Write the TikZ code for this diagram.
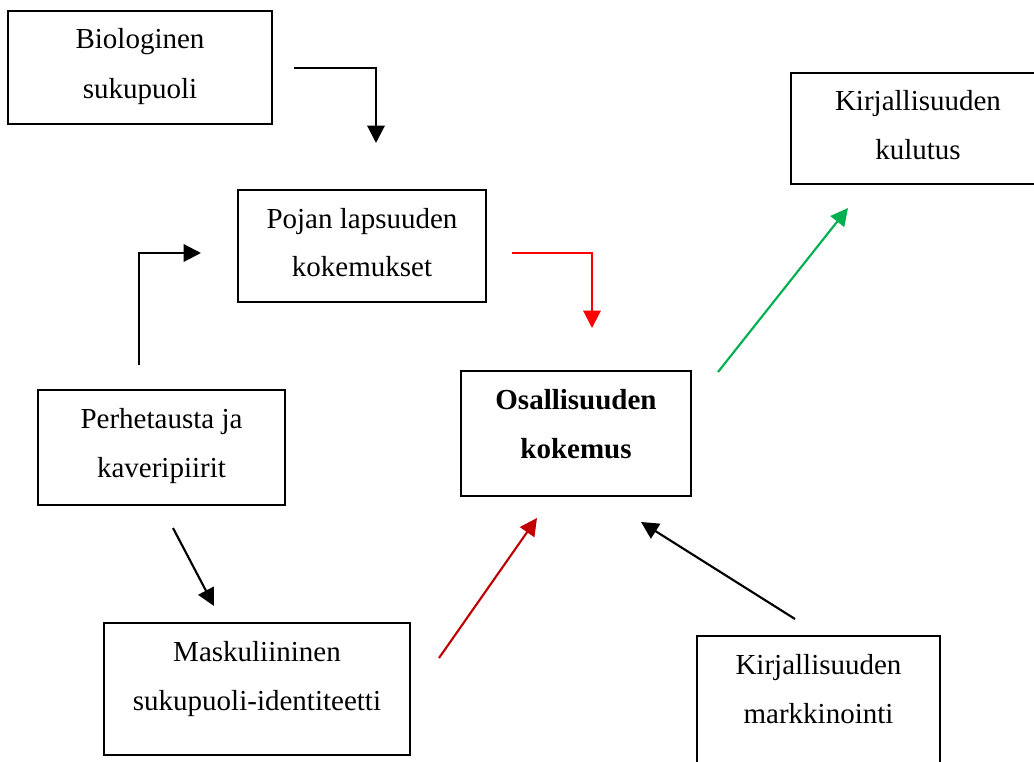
\documentclass[tikz,border=0pt]{standalone}
\usepackage{fontspec}
\setmainfont{Liberation Serif}
\usetikzlibrary{arrows.meta,calc}
\definecolor{arrred}{HTML}{FF0000}
\definecolor{arrgreen}{HTML}{00B050}
\definecolor{arrdarkred}{HTML}{C00000}
\begin{document}
\begin{tikzpicture}[x=0.75pt,y=-0.75pt,
  box/.style={draw=black, line width=0.8pt, rectangle, inner sep=0pt, outer sep=0pt},
  lbl/.style={anchor=base, font=\fontsize{21.75}{26}\selectfont, inner sep=0pt},
  conn/.style={line width=1.6pt, -{Triangle[length=13pt,width=13pt]}}]
\useasboundingbox (0,0) rectangle (1034,762);
% boxes
\node[box, minimum width=198pt, minimum height=84.75pt] (bio) at (140,67.5) {};
\node[box, minimum width=186pt, minimum height=84pt] (poj) at (362,246) {};
\node[box, minimum width=190.5pt, minimum height=83.25pt] (kul) at (918,128.5) {};
\node[box, minimum width=185.25pt, minimum height=86.25pt] (per) at (161.5,447.5) {};
\node[box, minimum width=172.5pt, minimum height=93.75pt] (osa) at (576,433.5) {};
\node[box, minimum width=229.5pt, minimum height=99pt] (mas) at (257,689) {};
\node[box, minimum width=182.25pt, minimum height=104.25pt] (mar) at (818.5,705.5) {};
% texts
\node[lbl] (bio1) at ($(bio.north)+(0,38)$) {Biologinen};
\node[lbl] (bio2) at ($(bio.north)+(0,88)$) {sukupuoli};
\node[lbl] (poj1) at ($(poj.north)+(0,39)$) {Pojan lapsuuden};
\node[lbl] (poj2) at ($(poj.north)+(0,87)$) {kokemukset};
\node[lbl] (kul1) at ($(kul.north)+(0,38)$) {Kirjallisuuden};
\node[lbl] (kul2) at ($(kul.north)+(0,87)$) {kulutus};
\node[lbl] (per1) at ($(per.north)+(0,38)$) {Perhetausta ja};
\node[lbl] (per2) at ($(per.north)+(0,87)$) {kaveripiirit};
\node[lbl, font=\fontsize{21.75}{26}\selectfont\bfseries] (osa1) at ($(osa.north)+(0,38)$) {Osallisuuden};
\node[lbl, font=\fontsize{21.75}{26}\selectfont\bfseries] (osa2) at ($(osa.north)+(0,87)$) {kokemus};
\node[lbl] (mas1) at ($(mas.north)+(0,38)$) {Maskuliininen};
\node[lbl] (mas2) at ($(mas.north)+(0,87)$) {sukupuoli-identiteetti};
\node[lbl] (mar1) at ($(mar.north)+(0,38)$) {Kirjallisuuden};
\node[lbl] (mar2) at ($(mar.north)+(0,87)$) {markkinointi};
% connector ends
\coordinate (a1s) at (294,68);   \coordinate (a1e) at (376,143);
\coordinate (a2s) at (139,365);  \coordinate (a2e) at (201,253);
\coordinate (a3s) at (512,253);  \coordinate (a3e) at (592,328);
\coordinate (a4s) at (718,372);  \coordinate (a4e) at (848,208);
\coordinate (a5s) at (439,658);  \coordinate (a5e) at (537,518);
\coordinate (a6s) at (795,619);  \coordinate (a6e) at (641,522);
\coordinate (a7s) at (173,528);  \coordinate (a7e) at (214,606);
% connectors
\draw[conn] (a1s) -| (a1e);
\draw[conn] (a2s) |- (a2e);
\draw[conn, draw=arrred] (a3s) -| (a3e);
\draw[conn, draw=arrgreen] (a4s) -- (a4e);
\draw[conn, draw=arrdarkred] (a5s) -- (a5e);
\draw[conn] (a6s) -- (a6e);
\draw[conn] (a7s) -- (a7e);
\end{tikzpicture}
\end{document}
